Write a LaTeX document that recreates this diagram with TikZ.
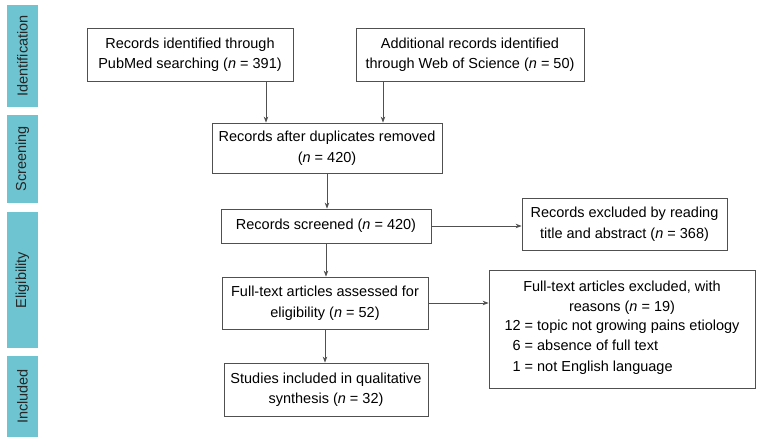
\documentclass[tikz,border=0pt]{standalone}
\usepackage{fontspec}
\setmainfont{Liberation Sans}
\usetikzlibrary{positioning}
\usetikzlibrary{arrows.meta}
\definecolor{barcol}{RGB}{110,197,209}
\definecolor{linecol}{RGB}{80,80,80}
\tikzset{
    stagebar/.style = {rectangle, fill=barcol, rotate=90, text=black!85, minimum height=31pt, inner sep=0pt},
    mybox/.style = {rectangle, draw=linecol, line width=0.8pt, fill=white, align=center, inner sep=0pt},
}
\begin{document}
\begin{tikzpicture}[
	x=1pt, y=-1pt,
	font=\fontsize{14.5}{20.5}\selectfont
]
\tikzset{
    edgea/.style = {-{Stealth[length=6pt,width=4.5pt]}, line width=0.8pt, linecol},
}
\useasboundingbox (0,0) rectangle (762,445);
% stages
\node[stagebar, minimum width=102pt] at (22.5,56) (sid) {Identification};
\node[stagebar, minimum width=88pt] at (22.5,159) (ssc) {Screening};
\node[stagebar, minimum width=136pt] at (22.5,280) (sel) {Eligibility};
\node[stagebar, minimum width=81pt] at (22.5,396.5) (sin) {Included};
%
\node[mybox, minimum width=206pt, minimum height=53pt] at (190,54.5) (pub) {Records identified through\\PubMed searching (\textit{n} = 391)};
\node[mybox, minimum width=228pt, minimum height=53pt] at (470,54.5) (wos) {Additional records identified\\through Web of Science (\textit{n} = 50)};
\node[mybox, minimum width=230pt, minimum height=50pt] at (327,148) (dup) {Records after duplicates removed\\(\textit{n} = 420)};
\node[mybox, minimum width=210pt, minimum height=34pt] at (326,226) (scr) {Records screened (\textit{n} = 420)};
\node[mybox, minimum width=206pt, minimum height=52pt] at (325,303) (full) {Full-text articles assessed for\\eligibility (\textit{n} = 52)};
\node[mybox, minimum width=204pt, minimum height=53pt] at (326,389.5) (inc) {Studies included in qualitative\\synthesis (\textit{n} = 32)};
\node[mybox, minimum width=205pt, minimum height=52pt] at (624.5,224) (exa) {Records excluded by reading\\title and abstract (\textit{n} = 368)};
\node[mybox, minimum width=266pt, minimum height=118pt] at (622,329) (exb) {Full-text articles excluded, with\\reasons (\textit{n} = 19)\\
  \begin{tabular}{@{}r@{ = }l@{}}12 & topic not growing pains etiology\\6 & absence of full text\\1 & not English language\end{tabular}};
%
\coordinate (pa) at (266,0);
\coordinate (pb) at (383,0);
\draw[edgea] (pub.south -| pa) -- (dup.north -| pa);
\draw[edgea] (wos.south -| pb) -- (dup.north -| pb);
\draw[edgea] (dup) -- (dup |- scr.north);
\draw[edgea] (scr) -- (scr |- full.north);
\draw[edgea] (full) -- (full |- inc.north);
\draw[edgea] (scr) -- (exa.west |- scr);
\draw[edgea] (full) -- (exb.west |- full);
\end{tikzpicture}
\end{document}
